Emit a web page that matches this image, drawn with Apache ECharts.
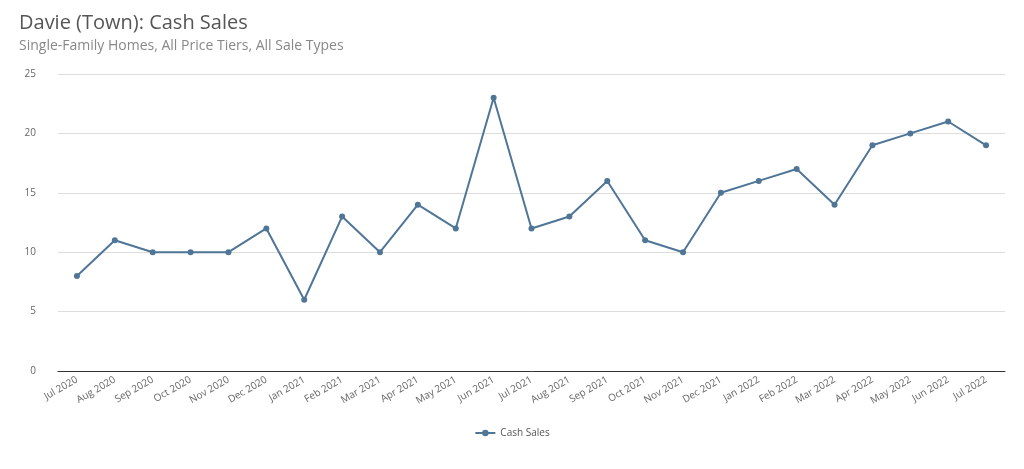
<!DOCTYPE html>
<html>
<head>
<meta charset="utf-8">
<script src="https://cdn.jsdelivr.net/npm/echarts@6/dist/echarts.min.js"></script>
<style>
    html, body { margin: 0; padding: 0; background: #fff; }
    #chart { width: 1024px; height: 469px; }
</style>
</head>
<body>
<div id="chart"></div>
<script>
    var months = ['Jul 2020', 'Aug 2020', 'Sep 2020', 'Oct 2020', 'Nov 2020', 'Dec 2020',
        'Jan 2021', 'Feb 2021', 'Mar 2021', 'Apr 2021', 'May 2021', 'Jun 2021',
        'Jul 2021', 'Aug 2021', 'Sep 2021', 'Oct 2021', 'Nov 2021', 'Dec 2021',
        'Jan 2022', 'Feb 2022', 'Mar 2022', 'Apr 2022', 'May 2022', 'Jun 2022', 'Jul 2022'];
    var cashSales = [8, 11, 10, 10, 10, 12, 6, 13, 10, 14, 12, 23, 12, 13, 16, 11, 10, 15, 16, 17, 14, 19, 20, 21, 19];

    var chart = echarts.init(document.getElementById('chart'));
    var font = 'Open Sans, Noto Sans, sans-serif';
    chart.setOption({
        animation: false,
        title: {
            text: 'Davie (Town): Cash Sales',
            subtext: 'Single-Family Homes, All Price Tiers, All Sale Types',
            left: 14, top: 8, itemGap: 6,
            textStyle: { fontFamily: font, fontSize: 20, fontWeight: 'normal', color: '#555' },
            subtextStyle: { fontFamily: font, fontSize: 14, color: '#888' }
        },
        grid: { left: 58, right: 19, top: 74, bottom: 98 },
        legend: {
            bottom: 26, left: 'center',
            itemWidth: 20, itemHeight: 8,
            textStyle: { fontFamily: font, fontSize: 10, color: '#555' },
            data: ['Cash Sales']
        },
        xAxis: {
            type: 'category',
            data: months,
            boundaryGap: true,
            axisLine: { lineStyle: { color: '#333' } },
            axisTick: { show: false },
            axisLabel: { rotate: 30, interval: 0, fontFamily: font, fontSize: 10, color: '#666', margin: 8 }
        },
        yAxis: {
            type: 'value', min: 0, max: 25, interval: 5,
            axisLine: { show: false },
            axisTick: { show: false },
            axisLabel: { fontFamily: font, fontSize: 10, color: '#666', margin: 22 },
            splitLine: { lineStyle: { color: '#ddd' } }
        },
        series: [{
            name: 'Cash Sales',
            type: 'line',
            data: cashSales,
            symbol: 'circle',
            symbolSize: 6,
            itemStyle: { color: '#4f7597' },
            lineStyle: { color: '#4f7597', width: 2 }
        }]
    });
</script>
</body>
</html>
